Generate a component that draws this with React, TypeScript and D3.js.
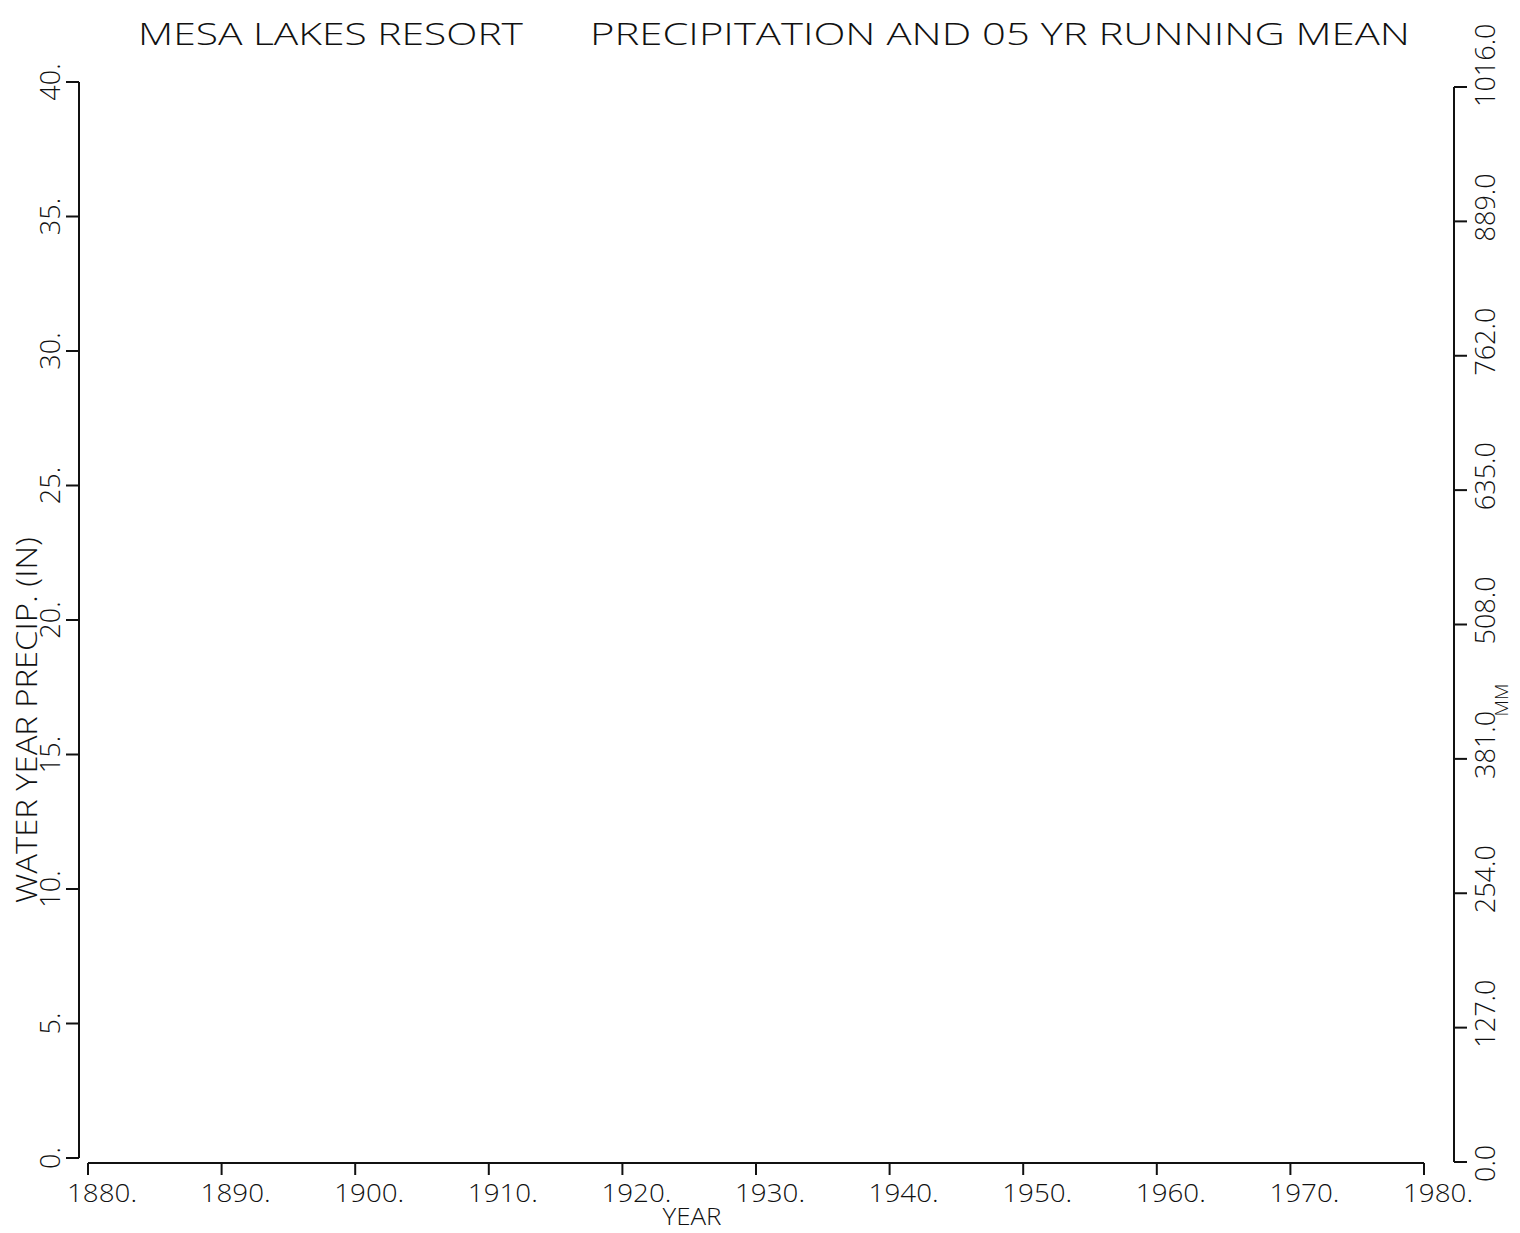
import React from "react";
import * as d3 from "d3";

const titleLeft = "MESA LAKES RESORT";
const titleRight = "PRECIPITATION AND 05 YR RUNNING MEAN";
const yearTicks = [1880, 1890, 1900, 1910, 1920, 1930, 1940, 1950, 1960, 1970, 1980];
const inchTicks = [0, 5, 10, 15, 20, 25, 30, 35, 40];
const mmTicks = [0, 127, 254, 381, 508, 635, 762, 889, 1016];
const xTitle = "YEAR";
const yLeftTitle = "WATER YEAR PRECIP. (IN)";
const yRightTitle = "MM";

const W = 1520;
const H = 1233;
const FONT = "'Open Sans', 'DejaVu Sans', sans-serif";

export default function App() {
  const x = d3.scaleLinear().domain([1880, 1980]).range([88, 1424]);
  const yL = d3.scaleLinear().domain([0, 40]).range([1158, 82]);
  const yR = d3.scaleLinear().domain([0, 1016]).range([1162, 87]);
  const xAxisY = 1163;
  const leftX = 79;
  const rightX = 1454;

  return (
    <svg
      width={W}
      height={H}
      style={{ position: "absolute", left: 0, top: 0, background: "#fff" }}
      fontFamily={FONT}
      fontWeight={300}
    >
      <rect width={W} height={H} fill="#fff" />
      {/* Title */}
      <text x={138} y={45} fontSize={31} textLength={385} lengthAdjust="spacingAndGlyphs" fill="#111">
        {titleLeft}
      </text>
      <text x={590} y={45} fontSize={31} textLength={820} lengthAdjust="spacingAndGlyphs" fill="#111">
        {titleRight}
      </text>

      {/* Left axis */}
      <line x1={leftX} x2={leftX} y1={yL(40)} y2={yL(0)} stroke="#111" strokeWidth={2} />
      {inchTicks.map((t) => (
        <g key={"l" + t}>
          <line x1={leftX - 13} x2={leftX} y1={yL(t)} y2={yL(t)} stroke="#111" strokeWidth={2} />
          <text
            transform={`translate(60,${yL(t)}) rotate(-90)`}
            textAnchor="middle"
            fontSize={27}
            fill="#111"
          >
            {t + "."}
          </text>
        </g>
      ))}
      <text
        transform={`translate(37,720) rotate(-90)`}
        textAnchor="middle"
        fontSize={30}
        textLength={366}
        lengthAdjust="spacingAndGlyphs"
        fill="#111"
      >
        {yLeftTitle}
      </text>

      {/* Right axis */}
      <line x1={rightX} x2={rightX} y1={yR(1016)} y2={yR(0)} stroke="#111" strokeWidth={2} />
      {mmTicks.map((t) => (
        <g key={"r" + t}>
          <line x1={rightX} x2={rightX + 13} y1={yR(t)} y2={yR(t)} stroke="#111" strokeWidth={2} />
          <text
            transform={`translate(1495,${yR(t) + 20}) rotate(-90)`}
            textAnchor="start"
            fontSize={27}
            fill="#111"
          >
            {t.toFixed(1)}
          </text>
        </g>
      ))}
      <text
        transform={`translate(1508,700) rotate(-90)`}
        textAnchor="middle"
        fontSize={19}
        fill="#111"
      >
        {yRightTitle}
      </text>

      {/* Bottom axis */}
      <line x1={x(1880)} x2={x(1980)} y1={xAxisY} y2={xAxisY} stroke="#111" strokeWidth={2} />
      {yearTicks.map((t) => (
        <g key={"x" + t}>
          <line x1={x(t)} x2={x(t)} y1={xAxisY} y2={xAxisY + 12} stroke="#111" strokeWidth={2} />
          <text
            x={x(t) - 21}
            y={1202}
            fontSize={26}
            textLength={70}
            lengthAdjust="spacingAndGlyphs"
            fill="#111"
          >
            {t + "."}
          </text>
        </g>
      ))}
      <text x={692} y={1225} textAnchor="middle" fontSize={24} textLength={59} lengthAdjust="spacingAndGlyphs" fill="#111">
        {xTitle}
      </text>
    </svg>
  );
}
